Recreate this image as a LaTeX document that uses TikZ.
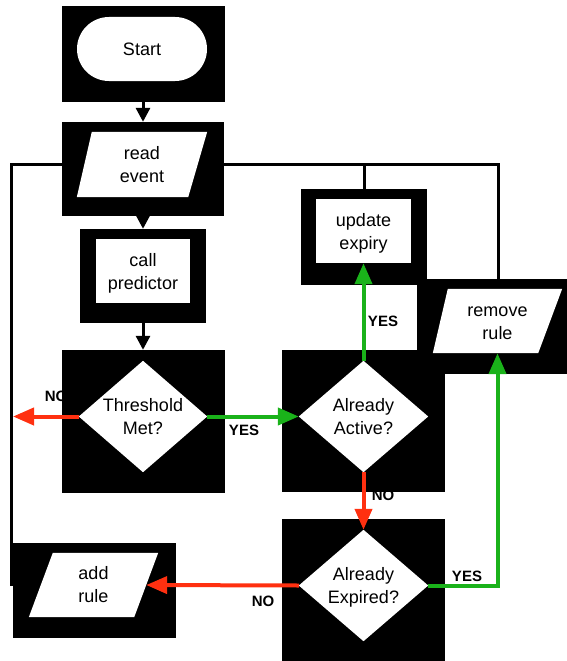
\documentclass[tikz,border=0pt]{standalone}
\usepackage{fontspec}
\setmainfont{Liberation Sans}
\usetikzlibrary{arrows.meta,calc}
\definecolor{fcred}{RGB}{255,48,16}
\definecolor{fcgreen}{RGB}{26,178,26}
\begin{document}
\begin{tikzpicture}[x=1pt,y=-1pt,
  blk/.style={rectangle,fill=black,draw=none,inner sep=0pt},
  ph/.style={rectangle,draw=none,inner sep=0pt},
  txt/.style={font=\fontsize{18}{23}\selectfont,align=center,inner sep=0pt},
  wbox/.style={rectangle,fill=white,draw=none,inner sep=0pt,font=\fontsize{18}{23}\selectfont,align=center},
  lbl/.style={font=\bfseries\fontsize{15}{18}\selectfont,inner sep=0pt},
  conn/.style={line width=3pt,black},
  carr/.style={conn,-{Triangle[length=14pt,width=14pt]}},
  garr/.style={line width=4pt,fcgreen,-{Triangle[length=21pt,width=17pt]}},
  rarr/.style={line width=4pt,fcred,-{Triangle[length=21pt,width=17pt]}}
]
\useasboundingbox (0,0) rectangle (567,661);

% labels partly hidden behind boxes
\node[lbl] (lNoA) at (56,396) {NO};
\node[lbl] (lNoB) at (383,495) {NO};

% black backgrounds
\node[blk,minimum width=163pt,minimum height=96pt] (bStart) at (143,54) {};
\node[blk,minimum width=162pt,minimum height=94pt] (bRead) at (143,169) {};
\node[blk,minimum width=126pt,minimum height=94pt] (bCall) at (143,276) {};
\node[blk,minimum width=163pt,minimum height=143pt] (bThr) at (143,421.5) {};
\node[blk,minimum width=126pt,minimum height=96pt] (bUpd) at (364,237) {};
\node[blk,minimum width=163pt,minimum height=95pt] (bRem) at (498.5,326.5) {};
\node[blk,minimum width=163pt,minimum height=142pt] (bAct) at (363.5,421) {};
\node[blk,minimum width=163pt,minimum height=142pt] (bExp) at (363.5,590) {};
\node[blk,minimum width=163pt,minimum height=95pt] (bAdd) at (94.5,590.5) {};

% white shapes
\node[wbox,rounded corners=32pt,minimum width=130pt,minimum height=64pt] (start) at (142,49) {Start};

\path node[ph,minimum width=130pt,minimum height=65pt] (read) at (142,164.5) {};
\fill[white] ([xshift=15pt]read.north west) -- (read.north east) -- ([xshift=-19pt]read.south east) -- (read.south west) -- cycle;
\node[txt] (readT) at (read.center) {read\\event};

\node[wbox,minimum width=94pt,minimum height=64pt] (call) at (143,271) {};
\node[txt] (callT) at ([yshift=-2pt]call.center) {call\\predictor};

\path node[ph,minimum width=128pt,minimum height=111pt] (thr) at (143,416.5) {};
\fill[white] (thr.north) -- (thr.east) -- (thr.south) -- (thr.west) -- cycle;
\node[txt] (thrT) at (thr.center) {Threshold\\Met?};

\node[wbox,minimum width=95pt,minimum height=64pt] (upd) at (363.5,231) {};
\node[txt] (updT) at ([yshift=-2pt]upd.center) {update\\expiry};

\path node[ph,minimum width=129pt,minimum height=64pt] (rem) at (497.5,321) {};
\fill[white] ([xshift=15pt]rem.north west) -- (rem.north east) -- ([xshift=-24pt]rem.south east) -- (rem.south west) -- cycle;
\node[txt] (remT) at ([yshift=-2pt]rem.center) {remove\\rule};

\path node[ph,minimum width=129pt,minimum height=111pt] (act) at (363.5,416.5) {};
\fill[white] (act.north) -- (act.east) -- (act.south) -- (act.west) -- cycle;
\node[txt] (actT) at (act.center) {Already\\Active?};

\path node[ph,minimum width=129pt,minimum height=111pt] (exp) at (363.5,585.5) {};
\fill[white] (exp.north) -- (exp.east) -- (exp.south) -- (exp.west) -- cycle;
\node[txt] (expT) at ([yshift=-1.5pt]exp.center) {Already\\Expired?};

\path node[ph,minimum width=129pt,minimum height=64pt] (add) at (93.5,585) {};
\fill[white] ([xshift=24pt]add.north west) -- (add.north east) -- ([xshift=-24pt]add.south east) -- (add.south west) -- cycle;
\node[txt] (addT) at (add.center) {add\\rule};

% other labels
\node[lbl] (lYesA) at (244,430) {YES};
\node[lbl] (lYesB) at (383,321) {YES};
\node[lbl] (lYesC) at (467,576) {YES};
\node[lbl] (lNoC) at (263,601) {NO};

% coordinates
\coordinate (noL) at (13,416.5);
\coordinate (addR) at ($(add.north east)!0.5!([xshift=-24pt]add.south east)$);

% connectors
\draw[carr] (bStart.south) -- (bRead.north);
\draw[carr] (bRead.south) -- (bCall.north);
\draw[carr] (bCall.south) -- (bThr.north);
\draw[conn] ([shift={(-1.5,-4.5)}]bAdd.west) |- ([yshift=5pt]bRead.west);
\draw[conn] ([yshift=5pt]bRead.east) -| (bRem.north);
\draw[conn] (bUpd.north) |- ([yshift=5pt]bRead.east);

\draw[rarr] (thr.west) -- (noL);
\draw[garr] (thr.east) -- (act.west);
\draw[garr] (act.north) -- (upd.south);
\draw[rarr] (act.south) -- (exp.north);
\draw[rarr] (exp.west) -- (addR);
\draw[garr] (exp.east) -| (rem.south);
\end{tikzpicture}
\end{document}
